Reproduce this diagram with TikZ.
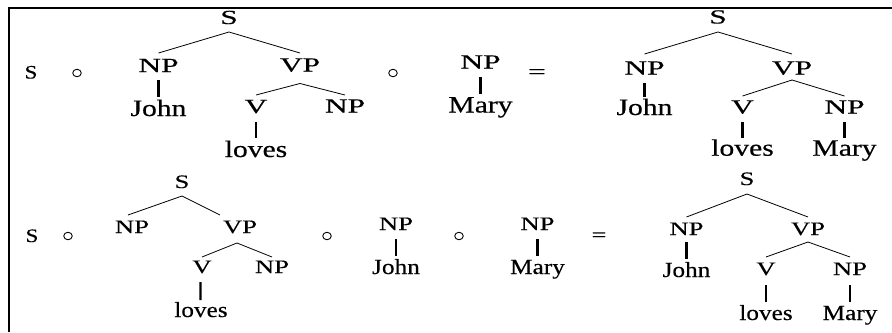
\documentclass[tikz,border=0pt]{standalone}
\usepackage{fontspec}
\setmainfont{Liberation Serif}
\newfontfamily\catT[FakeStretch=1.57,FakeBold=0.4]{Liberation Serif}
\newfontfamily\wordT[FakeStretch=1.26,FakeBold=0.4]{Liberation Serif}
\newfontfamily\catB[FakeStretch=1.40,FakeBold=0.3]{Liberation Serif}
\newfontfamily\wordB[FakeStretch=1.17,FakeBold=0.3]{Liberation Serif}
\newfontfamily\loneS[FakeStretch=1.2,FakeBold=0.4]{Liberation Serif}
\usetikzlibrary{shapes.geometric}
\begin{document}
\begin{tikzpicture}[x=1bp,y=-1bp,
  ct/.style={anchor=base, inner sep=0pt, font=\fontsize{20bp}{22bp}\catT},
  wt/.style={anchor=base, inner sep=0pt, font=\fontsize{23.5bp}{25bp}\wordT},
  cb/.style={anchor=base, inner sep=0pt, font=\fontsize{19bp}{21bp}\catB},
  wb/.style={anchor=base, inner sep=0pt, font=\fontsize{21.6bp}{23bp}\wordB},
  ls/.style={anchor=base, inner sep=0pt, font=\fontsize{19bp}{21bp}\loneS},
  comp/.style={draw, ellipse, minimum width=8.5bp, minimum height=7.5bp, inner sep=0pt, line width=0.9bp},
  br/.style={line width=0.8bp},
  un/.style={line width=2.2bp},
  frame/.style={line width=2.2bp}]
\useasboundingbox (0,0) rectangle (892,332);
% frame
\coordinate (f1) at (8.7,332);
\coordinate (f2) at (8.7,7.8);
\coordinate (f3) at (892,7.8);
\draw[frame] (f1) -- (f2) -- (f3);

% ===== top row =====
\node[ls] (s1) at (31,78.5) {S};
\node[comp] (o1) at (77,73) {};
% tree a
\node[ct] (aS) at (229,24) {S};
\node[ct] (aNP) at (158.5,72) {NP};
\node[ct] (aVP) at (300,71.5) {VP};
\node[wt] (aJohn) at (158.5,116) {John};
\node[ct] (aV) at (256,113) {V};
\node[ct] (aNPb) at (345,112.5) {NP};
\node[wt] (aloves) at (256,157) {loves};
\draw[br] ([yshift=-8bp]aS.base) -- ([yshift=19bp]aNP.base);
\draw[br] ([yshift=-8bp]aS.base) -- ([yshift=18.5bp]aVP.base);
\draw[br] ([yshift=-12bp]aVP.base) -- ([yshift=18bp]aV.base);
\draw[br] ([yshift=-12bp]aVP.base) -- ([yshift=17.5bp]aNPb.base);
\draw[un] ([yshift=-8bp]aNP.base) -- ([yshift=19bp]aJohn.base);
\draw[un] ([yshift=-9bp]aV.base) -- ([yshift=19bp]aloves.base);
\node[comp] (o2) at (393,73) {};
% tree b
\node[ct] (bNP) at (480.5,68.5) {NP};
\node[wt] (bMary) at (480.5,112.5) {Mary};
\draw[un] ([yshift=-8.5bp]bNP.base) -- ([yshift=18.5bp]bMary.base);
\node[ct] (eq1) at (537,78.3) {=};
% tree c
\node[ct] (cS) at (718,23.5) {S};
\node[ct] (cNP) at (644.5,74.5) {NP};
\node[ct] (cVP) at (792,74.5) {VP};
\node[wt] (cJohn) at (644.5,115) {John};
\node[ct] (cV) at (742.5,113.5) {V};
\node[ct] (cNPb) at (844.5,113.5) {NP};
\node[wt] (cloves) at (742.5,155.7) {loves};
\node[wt] (cMary) at (844.5,155.7) {Mary};
\draw[br] ([yshift=-8.5bp]cS.base) -- ([yshift=20.5bp]cNP.base);
\draw[br] ([yshift=-8.5bp]cS.base) -- ([yshift=20.5bp]cVP.base);
\draw[br] ([yshift=-5.5bp]cVP.base) -- ([yshift=17.5bp]cV.base);
\draw[br] ([yshift=-5.5bp]cVP.base) -- ([yshift=17.5bp]cNPb.base);
\draw[un] ([yshift=-8.5bp]cNP.base) -- ([yshift=18bp]cJohn.base);
\draw[un] ([yshift=-8.5bp]cV.base) -- ([yshift=17.7bp]cloves.base);
\draw[un] ([yshift=-8.5bp]cNPb.base) -- ([yshift=17.7bp]cMary.base);

% ===== bottom row =====
\node[ls] (s2) at (32,242) {S};
\node[comp] (o3) at (68,236) {};
% tree d
\node[cb] (dS) at (182,188) {S};
\node[cb] (dNP) at (132,233) {NP};
\node[cb] (dVP) at (240,233) {VP};
\node[cb] (dV) at (202,273) {V};
\node[cb] (dNPb) at (272,273) {NP};
\node[wb] (dloves) at (201,317) {loves};
\draw[br] ([yshift=-8bp]dS.base) -- ([xshift=-4bp,yshift=18bp]dNP.base);
\draw[br] ([yshift=-8bp]dS.base) -- ([xshift=-20bp,yshift=18bp]dVP.base);
\draw[br] ([xshift=-3bp,yshift=-10bp]dVP.base) -- ([yshift=16bp]dV.base);
\draw[br] ([xshift=-3bp,yshift=-10bp]dVP.base) -- ([yshift=16bp]dNPb.base);
\draw[un] ([xshift=-1.5bp,yshift=-9bp]dV.base) -- ([xshift=-0.5bp,yshift=17bp]dloves.base);
\node[comp] (o4) at (327,236) {};
% tree f
\node[cb] (fNP) at (396,230) {NP};
\node[wb] (fJohn) at (396,274) {John};
\draw[un] ([yshift=-9bp]fNP.base) -- ([yshift=18bp]fJohn.base);
\node[comp] (o5) at (459,236) {};
% tree g
\node[cb] (gNP) at (537.5,230) {NP};
\node[wb] (gMary) at (537.5,274) {Mary};
\draw[un] ([yshift=-9bp]gNP.base) -- ([yshift=18bp]gMary.base);
\node[cb] (eq2) at (599,241) {=};
% tree e
\node[cb] (eS) at (747,185) {S};
\node[cb] (eNP) at (686.5,235) {NP};
\node[cb] (eVP) at (808,235) {VP};
\node[wb] (eJohn) at (686.5,277) {John};
\node[cb] (eV) at (766,275) {V};
\node[cb] (eNPb) at (850,275) {NP};
\node[wb] (eloves) at (766,320) {loves};
\node[wb] (eMary) at (850,320) {Mary};
\draw[br] ([yshift=-9bp]eS.base) -- ([yshift=18bp]eNP.base);
\draw[br] ([yshift=-9bp]eS.base) -- ([yshift=18bp]eVP.base);
\draw[br] ([yshift=-7bp]eVP.base) -- ([yshift=18bp]eV.base);
\draw[br] ([yshift=-7bp]eVP.base) -- ([yshift=18bp]eNPb.base);
\draw[un] ([yshift=-7bp]eNP.base) -- ([yshift=18bp]eJohn.base);
\draw[un] ([yshift=-10bp]eV.base) -- ([yshift=18bp]eloves.base);
\draw[un] ([yshift=-10bp]eNPb.base) -- ([yshift=18bp]eMary.base);
\end{tikzpicture}
\end{document}
